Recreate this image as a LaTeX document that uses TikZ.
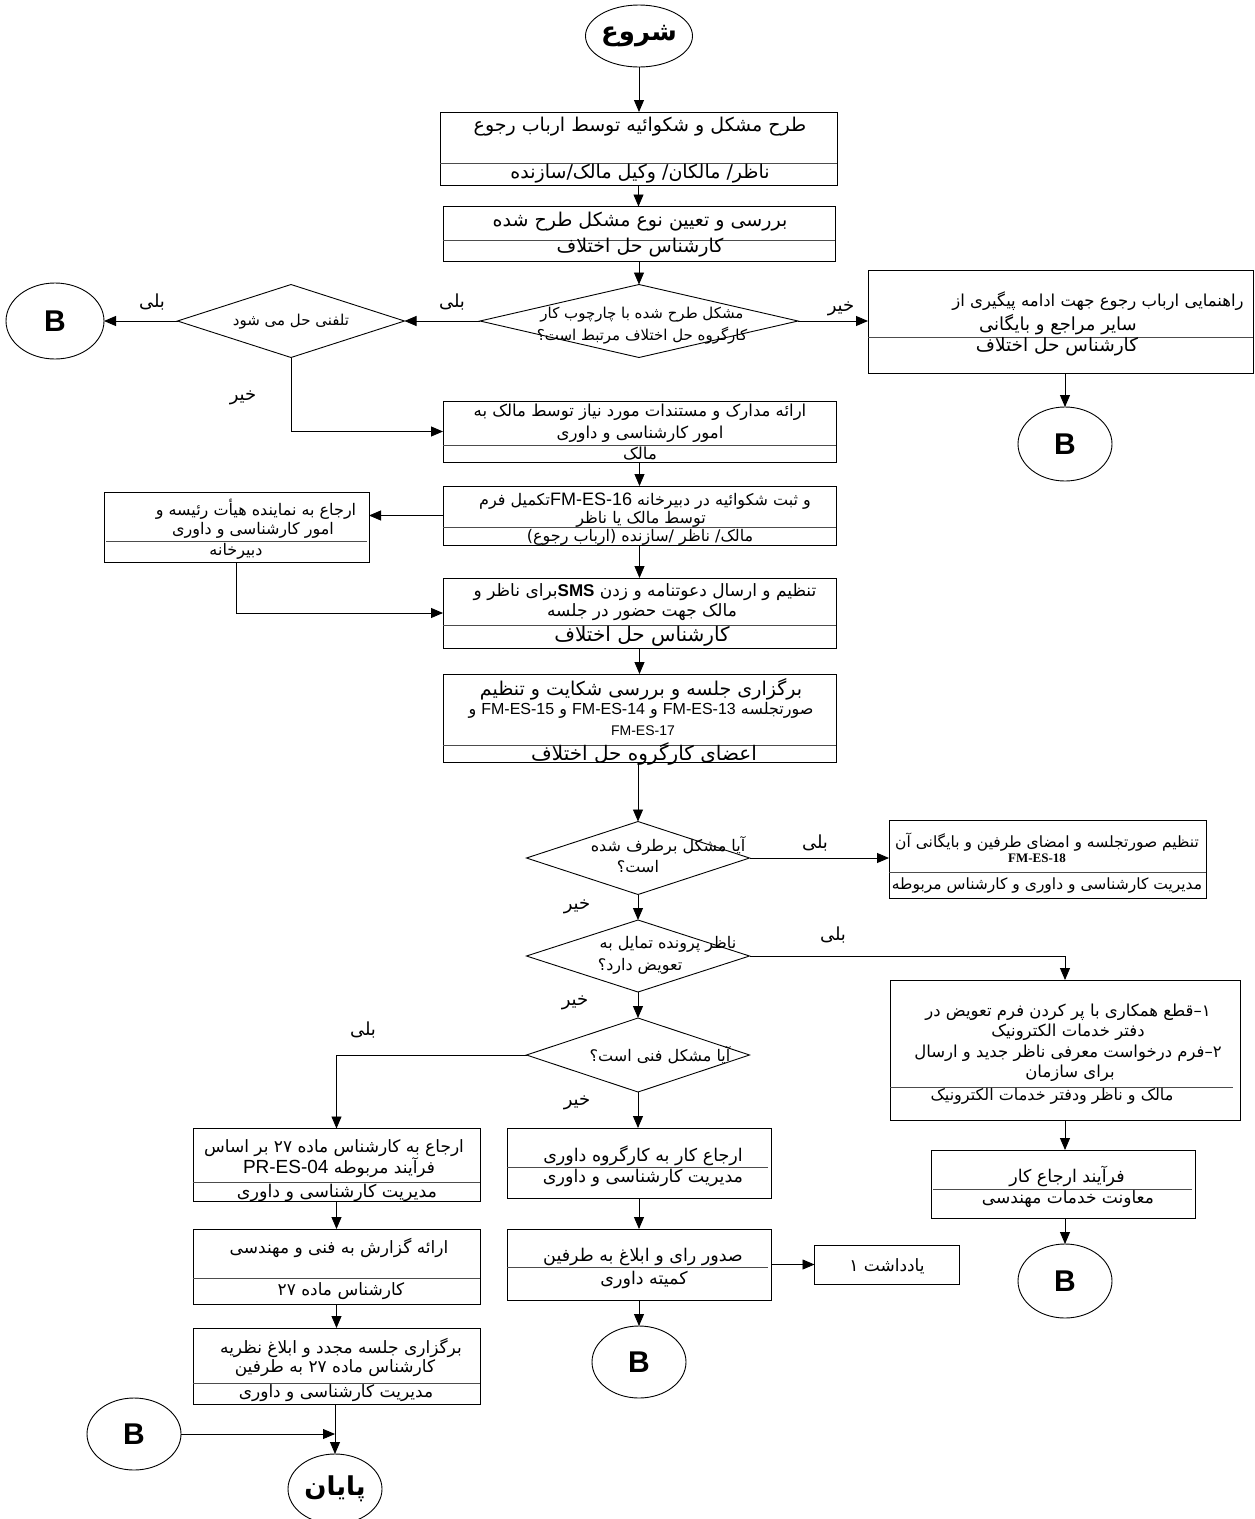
\documentclass[tikz,border=0pt]{standalone}
\usepackage{fontspec}
\setmainfont{Liberation Sans}
\newfontfamily\arabicfont[Script=Arabic]{DejaVu Sans}
\newfontfamily\latfont{Liberation Sans}
\newfontfamily\serfont{Liberation Serif}
\TeXXeTstate=1
\usetikzlibrary{arrows.meta,shapes.geometric}
\newcommand\latx[1]{\beginL{\latfont #1}\endL}
\newcommand\rtx[1]{\beginR #1\endR}
\tikzset{
  box/.style={draw, rectangle, line width=0.9pt, inner sep=0pt, outer sep=0pt},
  div/.style={draw=black!70, line width=0.8pt},
  arr/.style={-{Triangle[length=12pt,width=10pt]}, line width=0.9pt},
  dia/.style={draw, diamond, line width=0.9pt, inner sep=0pt, outer sep=0pt},
  term/.style={draw, ellipse, line width=0.9pt, inner sep=0pt, outer sep=0pt},
  ar/.style={inner sep=0pt, outer sep=0pt, font=\fontsize{#1}{#1}\arabicfont},
  lab/.style={inner sep=0pt, outer sep=0pt, font=\fontsize{18}{18}\arabicfont},
  bee/.style={term, font=\fontsize{30}{30}\latfont\bfseries}
}
\begin{document}
\begin{tikzpicture}[x=1pt,y=-1pt]
\fill[white] (0,0) rectangle (1254,1519);
\useasboundingbox (0,0) rectangle (1254,1519);

% ---- terminals
\node[term, minimum width=84pt, minimum height=62pt, font=\fontsize{26}{26}\arabicfont\bfseries] (st) at (639,36) {\rtx{شروع}};
\node[term, minimum width=94pt, minimum height=70pt, font=\fontsize{26}{26}\arabicfont\bfseries] (en) at (335,1489) {\rtx{پایان}};
\node[bee, minimum width=98pt, minimum height=76pt] (B1) at (55,321) {B};
\node[bee, minimum width=94pt, minimum height=74pt] (B2) at (1065,444) {B};
\node[bee, minimum width=94pt, minimum height=74pt] (B3) at (1065,1281) {B};
\node[bee, minimum width=94pt, minimum height=72pt] (B4) at (134,1434) {B};
\node[bee, minimum width=94pt, minimum height=72pt] (B5) at (639,1362) {B};

% ---- box 1
\node[box, minimum width=397pt, minimum height=73pt] (b1) at (638.5,148.5) {};
\draw[div] (440,163) -- (837,163);
\node[ar=19] (t1a) at (640,127) {\rtx{طرح مشکل و شکوائیه توسط ارباب رجوع}};
\node[ar=19] (t1b) at (640,174) {\rtx{ناظر/ مالکان/ وکیل مالک/سازنده}};

% ---- box 2
\node[box, minimum width=392pt, minimum height=55pt] (b2) at (639,234) {};
\draw[div] (443,240) -- (835,240);
\node[ar=19] (t2a) at (640,222) {\rtx{بررسی و تعیین نوع مشکل طرح شده}};
\node[ar=19] (t2b) at (640,248) {\rtx{کارشناس حل اختلاف}};

% ---- diamond 1 & 2
\node[dia, minimum width=318pt, minimum height=73pt] (d1) at (639,321) {};
\node[ar=15] (d1a) at (642,315) {\rtx{مشکل طرح شده با چارچوب کار}};
\node[ar=15] (d1b) at (642,336) {\rtx{کارگروه حل اختلاف مرتبط است؟}};
\node[dia, minimum width=227pt, minimum height=73pt] (d2) at (291,321) {};
\node[ar=15] (d2a) at (291,322) {\rtx{تلفنی حل می شود}};

% ---- box 4
\node[box, minimum width=385pt, minimum height=103pt] (b4) at (1060.5,321.5) {};
\draw[div] (868,337) -- (1253,337);
\node[ar=16.5] (t4a) at (1098,301) {\rtx{راهنمایی ارباب رجوع جهت ادامه پیگیری از}};
\node[ar=18] (t4b) at (1058,325) {\rtx{سایر مراجع و بایگانی}};
\node[ar=18.5] (t4c) at (1057,347) {\rtx{کارشناس حل اختلاف}};

% ---- box 3
\node[box, minimum width=393pt, minimum height=61pt] (b3) at (639.5,431.5) {};
\draw[div] (443,445) -- (836,445);
\node[ar=16.5] (t3a) at (640,412) {\rtx{ارائه مدارک و مستندات مورد نیاز توسط مالک به}};
\node[ar=16.5] (t3b) at (640,434) {\rtx{امور کارشناسی و داوری}};
\node[ar=16.5] (t3c) at (640,454) {\rtx{مالک}};

% ---- box 5
\node[box, minimum width=393pt, minimum height=59pt] (b5) at (639.5,515.5) {};
\draw[div] (443,527) -- (836,527);
\node[ar=16] (t5a) at (645,501) {\rtx{و ثبت شکوائیه در دبیرخانه \latx{\fontsize{18}{18}\selectfont FM-ES-16}تکمیل فرم}};
\node[ar=16] (t5b) at (641,519) {\rtx{توسط مالک یا ناظر}};
\node[ar=16] (t5c) at (640,537) {\rtx{مالک/ ناظر /سازنده (ارباب رجوع)}};

% ---- box 6
\node[box, minimum width=265pt, minimum height=70pt] (b6) at (236.5,527) {};
\draw[div] (106,541) -- (367,541);
\node[ar=16] (t6a) at (256,509) {\rtx{ارجاع به نماینده هیأت رئیسه و}};
\node[ar=16] (t6b) at (253,530) {\rtx{امور کارشناسی و داوری}};
\node[ar=16] (t6c) at (236,551) {\rtx{دبیرخانه}};

% ---- box 7
\node[box, minimum width=393pt, minimum height=70pt] (b7) at (639.5,613) {};
\draw[div] (443,625) -- (836,625);
\node[ar=17] (t7a) at (645,592) {\rtx{تنظیم و ارسال دعوتنامه و زدن \latx{\textbf{SMS}}برای ناظر و}};
\node[ar=17] (t7b) at (642,612) {\rtx{مالک جهت حضور در جلسه}};
\node[ar=20] (t7c) at (642,636) {\rtx{کارشناس حل اختلاف}};

% ---- box 8
\node[box, minimum width=393pt, minimum height=88pt] (b8) at (639.5,718) {};
\draw[div] (443,745) -- (836,745);
\node[ar=19] (t8a) at (641,689) {\rtx{برگزاری جلسه و بررسی شکایت و تنظیم}};
\node[ar=16] (t8b) at (641,710) {\rtx{صورتجلسه \latx{FM-ES-13} و \latx{FM-ES-14} و \latx{FM-ES-15} و}};
\node[inner sep=0pt, font=\fontsize{14}{14}\latfont] (t8c) at (643,731) {FM-ES-17};
\node[ar=20] (t8d) at (644,754) {\rtx{اعضای کارگروه حل اختلاف}};

% ---- diamond 3
\node[dia, minimum width=223pt, minimum height=73pt] (d3) at (638,858) {};
\node[ar=16] (d3a) at (668,846) {\rtx{آیا مشکل برطرف شده}};
\node[ar=16] (d3b) at (638,867) {\rtx{است؟}};

% ---- box 9
\node[box, minimum width=317pt, minimum height=78pt] (b9) at (1047.5,859) {};
\draw[div] (889,872) -- (1206,872);
\node[ar=15.5] (t9a) at (1047,842) {\rtx{تنظیم صورتجلسه و امضای طرفین و بایگانی آن}};
\node[inner sep=0pt, font=\fontsize{13}{13}\serfont\bfseries] (t9b) at (1037,858) {FM-ES-18};
\node[ar=15.5] (t9c) at (1047,885) {\rtx{مدیریت کارشناسی و داوری و کارشناس مربوطه}};

% ---- diamond 4
\node[dia, minimum width=223pt, minimum height=72pt] (d4) at (638,956) {};
\node[ar=16] (d4a) at (668,944) {\rtx{ناظر پرونده تمایل به}};
\node[ar=16] (d4b) at (640,966) {\rtx{تعویض دارد؟}};

% ---- box 10
\node[box, minimum width=350pt, minimum height=140pt] (b10) at (1065,1050) {};
\draw[div] (890,1087) -- (1233,1087);
\node[ar=16.5] (t10a) at (1068,1012) {\rtx{۱–قطع همکاری با پر کردن فرم تعویض در}};
\node[ar=16.5] (t10b) at (1068,1032) {\rtx{دفتر خدمات الکترونیک}};
\node[ar=16.5] (t10c) at (1068,1053) {\rtx{۲–فرم درخواست معرفی ناظر جدید و ارسال}};
\node[ar=16.5] (t10d) at (1070,1073) {\rtx{برای سازمان}};
\node[ar=16] (t10e) at (1052,1096) {\rtx{مالک و ناظر ودفتر خدمات الکترونیک}};

% ---- box 11
\node[box, minimum width=264pt, minimum height=68pt] (b11) at (1063,1184) {};
\draw[div] (933,1189) -- (1192,1189);
\node[ar=17.5] (t11a) at (1067,1176) {\rtx{فرآیند ارجاع کار}};
\node[ar=17] (t11b) at (1068,1199) {\rtx{معاونت خدمات مهندسی}};

% ---- diamond 5
\node[dia, minimum width=223pt, minimum height=74pt] (d5) at (638,1055) {};
\node[ar=16] (d5a) at (660,1055) {\rtx{آیا مشکل فنی است؟}};

% ---- box 12
\node[box, minimum width=287pt, minimum height=73pt] (b12) at (336.5,1165) {};
\draw[div] (193,1182) -- (480,1182);
\node[ar=17] (t12a) at (334,1148) {\rtx{ارجاع به کارشناس ماده ۲۷ بر اساس}};
\node[ar=17] (t12b) at (339,1168) {\rtx{فرآیند مربوطه \latx{\fontsize{19}{19}\selectfont PR-ES-04}}};
\node[ar=17.5] (t12c) at (337,1193) {\rtx{مدیریت کارشناسی و داوری}};

% ---- box 13
\node[box, minimum width=264pt, minimum height=70pt] (b13) at (639,1163) {};
\draw[div] (507,1167) -- (768,1167);
\node[ar=17.5] (t13a) at (643,1156) {\rtx{ارجاع کار به کارگروه داوری}};
\node[ar=17.5] (t13b) at (643,1178) {\rtx{مدیریت کارشناسی و داوری}};

% ---- box 14
\node[box, minimum width=287pt, minimum height=75pt] (b14) at (336.5,1266.5) {};
\draw[div] (193,1278) -- (480,1278);
\node[ar=17] (t14a) at (339,1248) {\rtx{ارائه گزارش به فنی و مهندسی}};
\node[ar=17] (t14b) at (341,1291) {\rtx{کارشناس ماده ۲۷}};

% ---- box 15
\node[box, minimum width=287pt, minimum height=76pt] (b15) at (336.5,1366) {};
\draw[div] (193,1383) -- (480,1383);
\node[ar=17] (t15a) at (341,1348) {\rtx{برگزاری جلسه مجدد و ابلاغ نظریه}};
\node[ar=17] (t15b) at (335,1368) {\rtx{کارشناس ماده ۲۷ به طرفین}};
\node[ar=17] (t15c) at (336,1393) {\rtx{مدیریت کارشناسی و داوری}};

% ---- box 16, 17
\node[box, minimum width=264pt, minimum height=71pt] (b16) at (639,1264.5) {};
\draw[div] (507,1267) -- (768,1267);
\node[ar=17.5] (t16a) at (643,1257) {\rtx{صدور رای و ابلاغ به طرفین}};
\node[ar=17.5] (t16b) at (644,1280) {\rtx{کمیته داوری}};
\node[box, minimum width=145pt, minimum height=39pt] (b17) at (887,1264.5) {};
\node[ar=17] (t17) at (887,1266) {\rtx{یادداشت ۱}};

% ---- labels
\node[lab] (l1) at (452,302) {\rtx{بلی}};
\node[lab] (l2) at (152,302) {\rtx{بلی}};
\node[lab] (l3) at (243,398) {\rtx{خیر}};
\node[lab] (l4) at (841,309) {\rtx{خیر}};
\node[lab] (l5) at (815,843) {\rtx{بلی}};
\node[lab] (l6) at (577,907) {\rtx{خیر}};
\node[lab] (l7) at (833,935) {\rtx{بلی}};
\node[lab] (l8) at (575,1003) {\rtx{خیر}};
\node[lab] (l9) at (363,1030) {\rtx{بلی}};
\node[lab] (l10) at (577,1103) {\rtx{خیر}};

% ---- connectors
\draw[arr] (st.south) -- (st.south |- b1.north);
\draw[arr] (b1.south) -- (b1.south |- b2.north);
\draw[arr] (d1.north |- b2.south) -- (d1.north);
\draw[arr] (d1.west) -- (d2.east);
\draw[arr] (d2.west) -- (B1.east);
\draw[arr] (d2.south) |- (b3.west);
\draw[arr] (d1.east) -- (d1.east -| b4.west);
\draw[arr] (B2.north |- b4.south) -- (B2.north);
\draw[arr] (b3.south) -- (b3.south |- b5.north);
\draw[arr] (b5.west) -- (b5.west -| b6.east);
\draw[arr] (b6.south) |- (b7.west);
\draw[arr] (b5.south) -- (b5.south |- b7.north);
\draw[arr] (b7.south) -- (b7.south |- b8.north);
\draw[arr] (d3.north |- b8.south) -- (d3.north);
\draw[arr] (d3.east) -- (d3.east -| b9.west);
\draw[arr] (d3.south) -- (d4.north);
\draw[arr] (d4.east) -| (b10.north);
\draw[arr] (d4.south) -- (d5.north);
\draw[arr] (d5.west) -| (b12.north);
\draw[arr] (d5.south) -- (d5.south |- b13.north);
\draw[arr] (b10.south) -- (b10.south |- b11.north);
\draw[arr] (B3.north |- b11.south) -- (B3.north);
\draw[arr] (b12.south) -- (b12.south |- b14.north);
\draw[arr] (b14.south) -- (b14.south |- b15.north);
\draw[arr] (en.north |- b15.south) -- (en.north);
\draw[arr] (B4.east) -- (B4.east -| en.north);
\draw[arr] (b13.south) -- (b13.south |- b16.north);
\draw[arr] (b16.east) -- (b16.east -| b17.west);
\draw[arr] (B5.north |- b16.south) -- (B5.north);
\end{tikzpicture}
\end{document}
